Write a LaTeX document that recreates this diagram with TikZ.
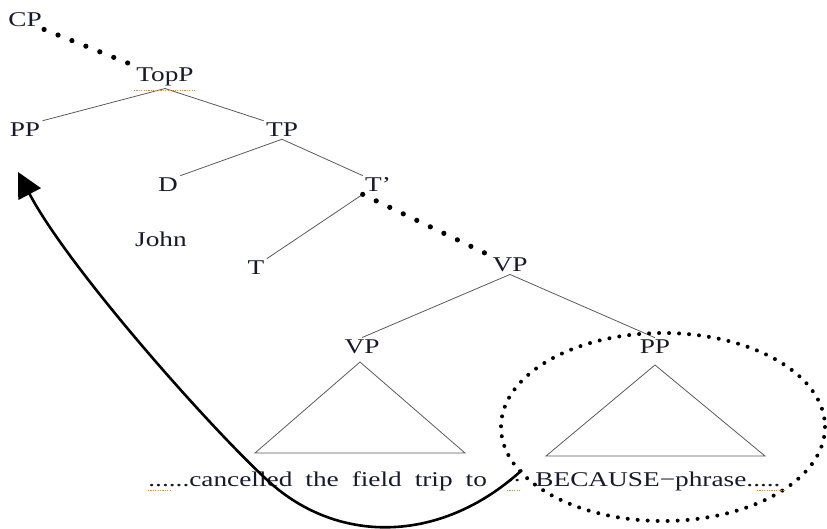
\documentclass[tikz,border=0pt]{standalone}
\usepackage{fontspec}
\setmainfont{Liberation Serif}[FakeStretch=1.3]
\usepackage{tikz}
\usetikzlibrary{
    arrows.meta,
    positioning
}
\definecolor{labelink}{RGB}{25,25,45}
\definecolor{branchgray}{RGB}{90,90,90}
\definecolor{spellorange}{RGB}{235,140,60}

\begin{document}
\begin{tikzpicture}[
        x=0.5pt, y=-0.5pt,
        >=Stealth,
        cat/.style={
            inner sep=1pt,
            text=labelink,
            font=\fontsize{10.5}{12}\selectfont
        },
        branch/.style={
            draw=branchgray,
            line width=0.4pt
        },
        dotline/.style={
            line width=2.6pt,
            line cap=round,
            dash pattern=on 0pt off 7.5pt
        },
        dotring/.style={
            line width=2pt,
            line cap=round,
            dash pattern=on 0pt off 5pt
        },
        squiggle/.style={
            draw=spellorange,
            line width=0.4pt,
            dash pattern=on 0.6pt off 0.6pt
        },
        movearrow/.style={
            line width=1.3pt,
            -{Triangle[length=12.5pt,width=12.5pt]}
        }
    ]
        \useasboundingbox (0,0) rectangle (827,529);

        % tree labels
        \node[cat] (cp) at (25,20) {CP};
        \node[cat] (topp) at (165,77) {TopP};
        \node[cat] (pp) at (25,130) {PP};
        \node[cat] (tp) at (282,130) {TP};
        \node[cat] (d) at (168,185) {D};
        \node[cat] (tbar) at (378,185) {T’};
        \node[cat] (john) at (161,239) {John};
        \node[cat] (t) at (256,268) {T};
        \node[cat] (vp) at (510,265) {VP};
        \node[cat] (vplow) at (362,347) {VP};
        \node[cat] (pprt) at (655,347) {PP};

        % bottom string
        \node[cat, anchor=west] (left) at (146,481) {\spaceskip=6.5pt ......cancelled the field trip to};
        \node[cat] (gap) at (514,481) {..};
        \node[cat, anchor=west] (right) at (533,481) {BECAUSE−phrase.....};

        % branches
        \draw[branch] (topp.south) -- (pp.north east);
        \draw[branch] (topp.south) -- (tp.north west);
        \draw[branch] (tp.south) -- (d.north east);
        \draw[branch] (tp.south) -- (tbar.north west);
        \draw[branch] (tbar.south west) -- (t.north east);
        \draw[branch] (vp.south) -- (vplow.north);
        \draw[branch] (vp.south) -- (pprt.north);

        % triangles
        \draw[branch] (360,362) -- (255,453) -- (465,453) -- cycle;
        \draw[branch] (655,365) -- (546,456) -- (765,456) -- cycle;

        % dotted links
        \draw[dotline] (cp.south east) -- (topp.north west);
        \draw[dotline] (tbar.south west) -- (vp.north west);

        % adjunct ring
        \draw[dotring] (663,427) ellipse [x radius=162, y radius=94];

        % movement
        \coordinate (src) at (522,470);
        \coordinate (tgt) at (18,172);
        \draw[movearrow] (src) .. controls (440,545) and (335,545) .. (265,478)
            .. controls (205,422) and (68,267) .. (tgt);

        % spell-check marks
        \draw[squiggle] ([yshift=-1pt]topp.south west) -- ([yshift=-1pt]topp.south east);
        \draw[squiggle] (148,490) -- (172,490);
        \draw[squiggle] (507,490) -- (520,490);
        \draw[squiggle] (757,490) -- (785,490);
    \end{tikzpicture}
\end{document}
